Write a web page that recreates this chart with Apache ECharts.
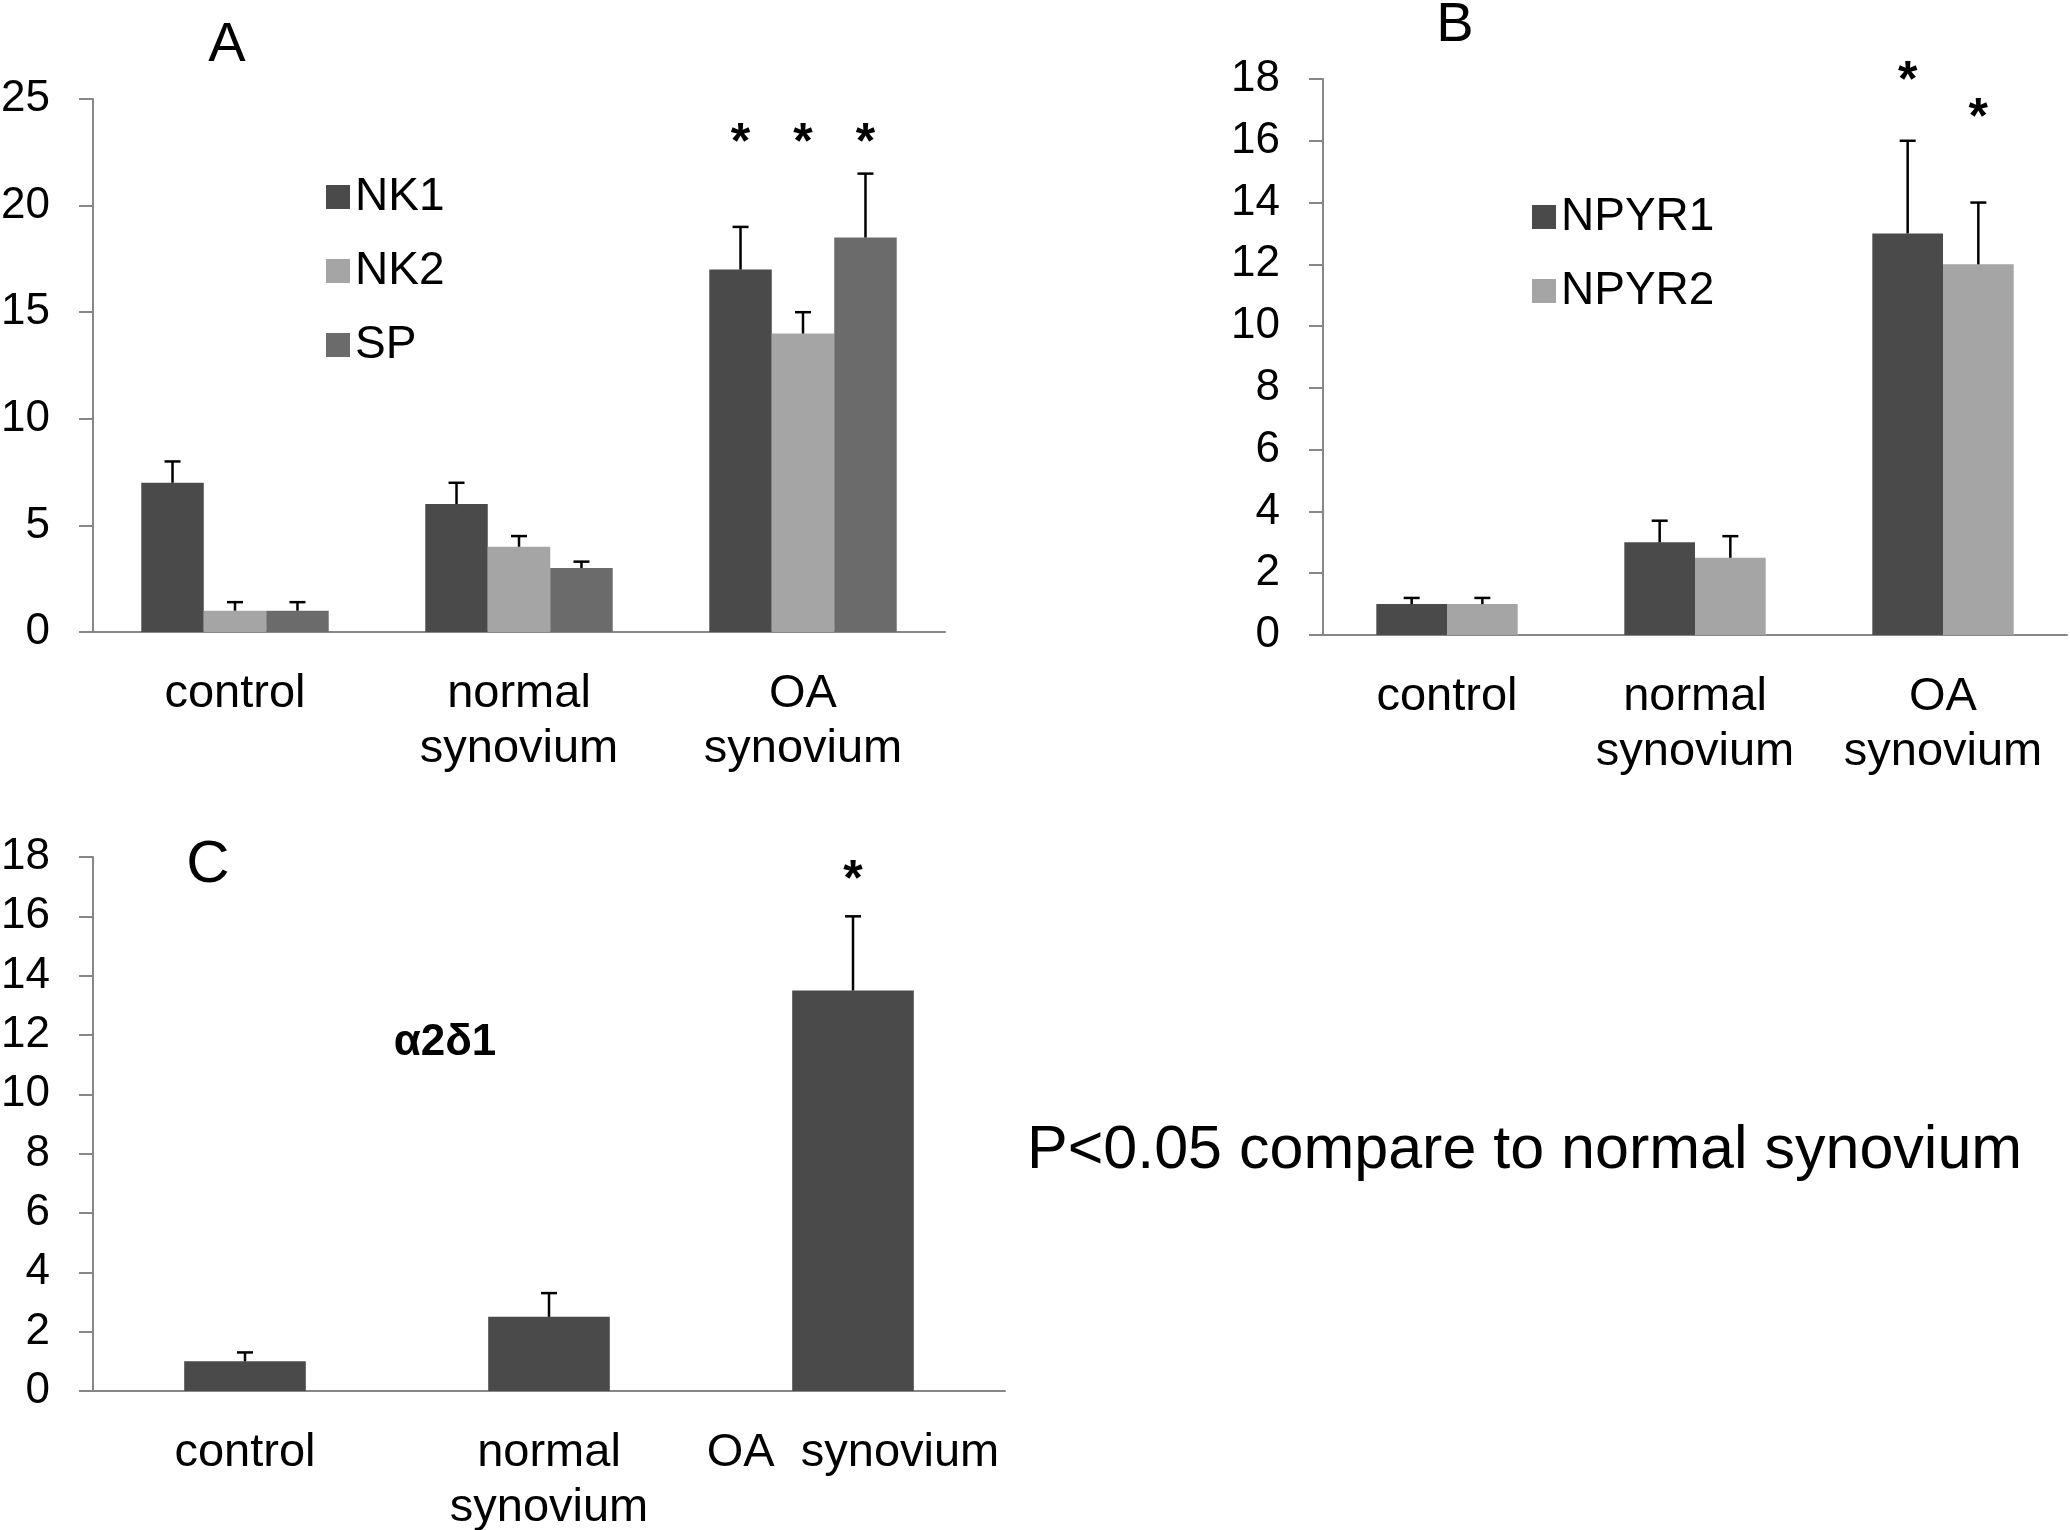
<!DOCTYPE html>
<html>
<head>
<meta charset="utf-8">
<script src="https://cdn.jsdelivr.net/npm/echarts@6/dist/echarts.min.js"></script>
<style>html,body{margin:0;padding:0;background:#fff;}#c{width:2070px;height:1530px;}</style>
</head>
<body>
<div id="c"></div>
<script>
// ---------- data ----------
const catsA = ['control', 'normal\nsynovium', 'OA\nsynovium'];
const nk1 = [7, 6, 17];
const nk1Err = [1, 1, 2];
const nk2 = [1, 4, 14];
const nk2Err = [0.4, 0.5, 1];
const sp = [1, 3, 18.5];
const spErr = [0.4, 0.3, 3];
const starsA = [[2, 0, 23.3], [2, 1, 23.3], [2, 2, 23.3]]; // [category, series, height]

const catsB = ['control', 'normal\nsynovium', 'OA\nsynovium'];
const npyr1 = [1, 3, 13];
const npyr1Err = [0.2, 0.7, 3];
const npyr2 = [1, 2.5, 12];
const npyr2Err = [0.2, 0.7, 2];
const starsB = [[2, 0, 18.2], [2, 1, 17.0]];

const catsC = ['control', 'normal\nsynovium', 'OA  synovium'];
const a2d1 = [1, 2.5, 13.5];
const a2d1Err = [0.3, 0.8, 2.5];
const starsC = [[2, 0, 17.5]];

const yTicksA = {min: 0, max: 25, interval: 5};
const yTicksB = {min: 0, max: 18, interval: 2};
const yTicksC = {min: 0, max: 18, interval: 2};

// ---------- styles ----------
const FONT = '"Liberation Sans", Arial, sans-serif';
const C_DARK = '#4a4a4a', C_LIGHT = '#a5a5a5', C_MID = '#6b6b6b';
const AXIS = '#878787';

function xAxis(gi, cats) {
  return {
    type: 'category', gridIndex: gi, data: cats,
    axisLine: {lineStyle: {color: AXIS, width: 2}},
    axisTick: {length: 14, lineStyle: {color: AXIS, width: 2}},
    axisLabel: {color: '#000', fontSize: 47, fontFamily: FONT, margin: 35, lineHeight: 55, interval: 0}
  };
}
function yAxis(gi, t) {
  return {
    type: 'value', gridIndex: gi, min: t.min, max: t.max, interval: t.interval,
    splitLine: {show: false},
    axisLine: {show: true, lineStyle: {color: AXIS, width: 2}},
    axisTick: {show: true, length: 14, lineStyle: {color: AXIS, width: 2}},
    axisLabel: {color: '#000', fontSize: 44, fontFamily: FONT, margin: 43}
  };
}
function bar(name, gi, vals, color, width) {
  return {
    type: 'bar', name: name, xAxisIndex: gi, yAxisIndex: gi, data: vals,
    barWidth: width, barGap: '0%', itemStyle: {color: color}, z: 2
  };
}
function errSeries(gi, vals, errs, idx, n, ratio) {
  return {
    type: 'custom', xAxisIndex: gi, yAxisIndex: gi, z: 5, silent: true,
    data: vals.map((v, i) => [i, v, errs[i]]),
    renderItem: function (params, api) {
      const x = api.value(0), v = api.value(1), e = api.value(2);
      const bw = api.size([1, 0])[0] * ratio;
      const off = (idx - (n - 1) / 2) * bw;
      const p0 = api.coord([x, v]);
      const p1 = api.coord([x, v + e]);
      const cx = p0[0] + off;
      const st = {stroke: '#000', lineWidth: 2.5};
      return {type: 'group', children: [
        {type: 'line', shape: {x1: cx, y1: p0[1], x2: cx, y2: p1[1]}, style: st},
        {type: 'line', shape: {x1: cx - 8, y1: p1[1], x2: cx + 8, y2: p1[1]}, style: st}
      ]};
    }
  };
}
function starSeries(gi, stars, n, ratio) {
  return {
    type: 'custom', xAxisIndex: gi, yAxisIndex: gi, z: 6, silent: true,
    data: stars,
    renderItem: function (params, api) {
      const x = api.value(0), s = api.value(1), h = api.value(2);
      const bw = api.size([1, 0])[0] * ratio;
      const off = (s - (n - 1) / 2) * bw;
      const p = api.coord([x, h]);
      return {type: 'text', x: p[0] + off, y: p[1] + 9,
        style: {text: '*', fill: '#000', font: 'bold 50px ' + FONT, textAlign: 'center', textVerticalAlign: 'middle'}};
    }
  };
}
function legend(names, left, top) {
  return {
    data: names, orient: 'vertical', left: left, top: top, icon: 'rect',
    itemWidth: 24, itemHeight: 24, itemGap: 28, selectedMode: false,
    textStyle: {color: '#000', fontSize: 46, fontFamily: FONT, padding: [0, 0, 0, 0]}
  };
}
function label(text, x, y, size, bold, align) {
  return {type: 'text', x: x, y: y, style: {text: text, fill: '#000',
    font: (bold ? 'bold ' : '') + size + 'px ' + FONT, textAlign: align || 'center', textVerticalAlign: 'middle'}};
}

const rA = 0.22, rB = 0.285, rC = 0.40;

const option = {
  animation: false,
  backgroundColor: '#fff',
  grid: [
    {left: 93, top: 99, width: 852, height: 533, outerBoundsMode: 'none', containLabel: false},
    {left: 1323, top: 79, width: 744, height: 556, outerBoundsMode: 'none', containLabel: false},
    {left: 93, top: 857, width: 912, height: 534, outerBoundsMode: 'none', containLabel: false}
  ],
  xAxis: [xAxis(0, catsA), xAxis(1, catsB), xAxis(2, catsC)],
  yAxis: [yAxis(0, yTicksA), yAxis(1, yTicksB), yAxis(2, yTicksC)],
  legend: [legend(['NK1', 'NK2', 'SP'], 321, 169), legend(['NPYR1', 'NPYR2'], 1527, 189)],
  graphic: [
    label('A', 227, 46, 56),
    label('B', 1455, 26, 56),
    label('C', 208, 865, 60),
    label('α2δ1', 445, 1043, 44, true),
    label('P<0.05 compare to normal synovium', 1027, 1151, 61, false, 'left')
  ],
  series: [
    bar('NK1', 0, nk1, C_DARK, rA * 100 + '%'),
    bar('NK2', 0, nk2, C_LIGHT, rA * 100 + '%'),
    bar('SP', 0, sp, C_MID, rA * 100 + '%'),
    errSeries(0, nk1, nk1Err, 0, 3, rA),
    errSeries(0, nk2, nk2Err, 1, 3, rA),
    errSeries(0, sp, spErr, 2, 3, rA),
    starSeries(0, starsA, 3, rA),

    bar('NPYR1', 1, npyr1, C_DARK, rB * 100 + '%'),
    bar('NPYR2', 1, npyr2, C_LIGHT, rB * 100 + '%'),
    errSeries(1, npyr1, npyr1Err, 0, 2, rB),
    errSeries(1, npyr2, npyr2Err, 1, 2, rB),
    starSeries(1, starsB, 2, rB),

    bar('α2δ1', 2, a2d1, C_DARK, rC * 100 + '%'),
    errSeries(2, a2d1, a2d1Err, 0, 1, rC),
    starSeries(2, starsC, 1, rC)
  ]
};
echarts.init(document.getElementById('c')).setOption(option);
</script>
</body>
</html>
